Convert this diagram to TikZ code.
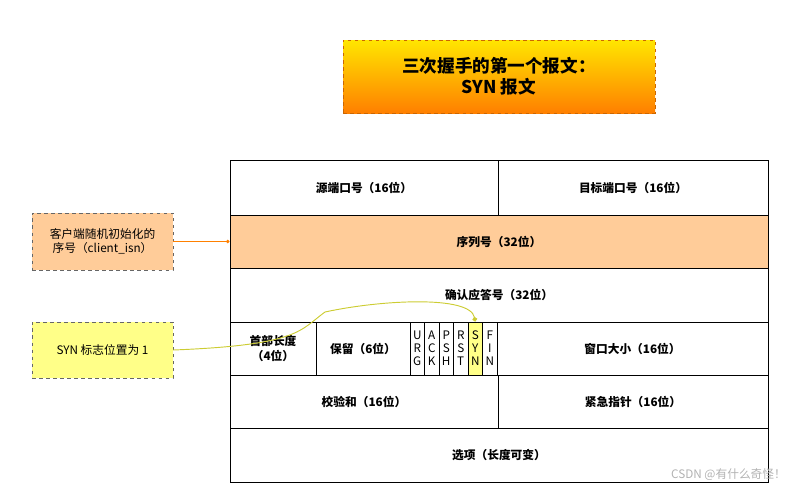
\documentclass[tikz,border=0pt]{standalone}
\usepackage{fontspec}
\setmainfont{Noto Sans CJK SC}
\usetikzlibrary{arrows.meta}
\begin{document}
\begin{tikzpicture}[x=0.03cm,y=-0.03cm,
  cell/.style={draw=black,line width=0.8pt,inner sep=0pt,font=\bfseries\fontsize{10}{12}\selectfont},
  flag/.style={font=\fontsize{10}{11}\selectfont,align=center,inner sep=0pt},
  note/.style={draw=gray!80!black,dashed,inner sep=2pt,align=center,font=\fontsize{10}{12}\selectfont}]
\useasboundingbox (0,0) rectangle (797,495);
\definecolor{peach}{HTML}{FFCC99}
\definecolor{ly}{HTML}{FFFF88}
\definecolor{olive}{HTML}{CCCC33}
% title
\node[draw=orange!80!black,dashed,top color=yellow!80!orange,bottom color=orange,minimum width=312*0.03cm,minimum height=73*0.03cm,align=center,font=\bfseries\fontsize{15}{18}\selectfont] (title) at (499,76.5) {三次握手的第一个报文：\\SYN\ 报文};
% rows
\node[cell,minimum width=268*0.03cm,minimum height=55*0.03cm] (src) at (364,187.5) {源端口号（16位）};
\node[cell,minimum width=270*0.03cm,minimum height=55*0.03cm] (dst) at (633,187.5) {目标端口号（16位）};
\node[cell,fill=peach,minimum width=538*0.03cm,minimum height=53*0.03cm] (seq) at (499,241.5) {序列号（32位）};
\node[cell,minimum width=538*0.03cm,minimum height=54*0.03cm] (ack) at (499,295) {确认应答号（32位）};
\node[cell,minimum width=86*0.03cm,minimum height=53*0.03cm,align=center] (hl) at (273,348.5) {首部长度\\（4位）};
\node[cell,minimum width=94*0.03cm,minimum height=53*0.03cm] (res) at (363,348.5) {保留（6位）};
\foreach \n/\t [count=\i from 0] in {urg/U\\R\\G,ack2/A\\C\\K,psh/P\\S\\H,rst/R\\S\\T,syn/S\\Y\\N,fin/F\\I\\N}{
  \ifnum\i=4
  \node[draw,line width=0.8pt,fill=ly,minimum width=14.5*0.03cm,minimum height=53*0.03cm,inner sep=0pt] (\n) at (417.25+\i*14.5,348.5) {};
  \else
  \node[draw,line width=0.8pt,minimum width=14.5*0.03cm,minimum height=53*0.03cm,inner sep=0pt] (\n) at (417.25+\i*14.5,348.5) {};
  \fi
  \node[flag] at (\n) {\t};
}
\node[cell,minimum width=271*0.03cm,minimum height=53*0.03cm] (win) at (632.5,348.5) {窗口大小（16位）};
\node[cell,minimum width=268*0.03cm,minimum height=53*0.03cm] (chk) at (364,401.5) {校验和（16位）};
\node[cell,minimum width=270*0.03cm,minimum height=53*0.03cm] (urgp) at (633,401.5) {紧急指针（16位）};
\node[cell,minimum width=538*0.03cm,minimum height=54*0.03cm] (opt) at (499,455) {选项（长度可变）};
% notes
\node[note,fill=peach,minimum width=141*0.03cm,minimum height=57*0.03cm] (n1) at (102.5,241.5) {客户端随机初始化的\\序号（client\_isn）};
\node[note,fill=ly,minimum width=141*0.03cm,minimum height=56*0.03cm] (n2) at (102.5,350) {SYN 标志位置为 1};
\draw[orange,line width=0.8pt,-{Circle[length=3pt]}] (n1.east) -- (seq.west);
\draw[olive,line width=0.8pt,-{Circle[length=4pt]}] (n2.east) .. controls (300,345) and (300,330) .. (325,312) .. controls (380,300) and (470,295) .. (syn.north);
\node[text=gray!60,font=\fontsize{10}{12}\selectfont,anchor=east] (wm) at (790,475) {CSDN @有什么奇怪！};
\end{tikzpicture}
\end{document}
